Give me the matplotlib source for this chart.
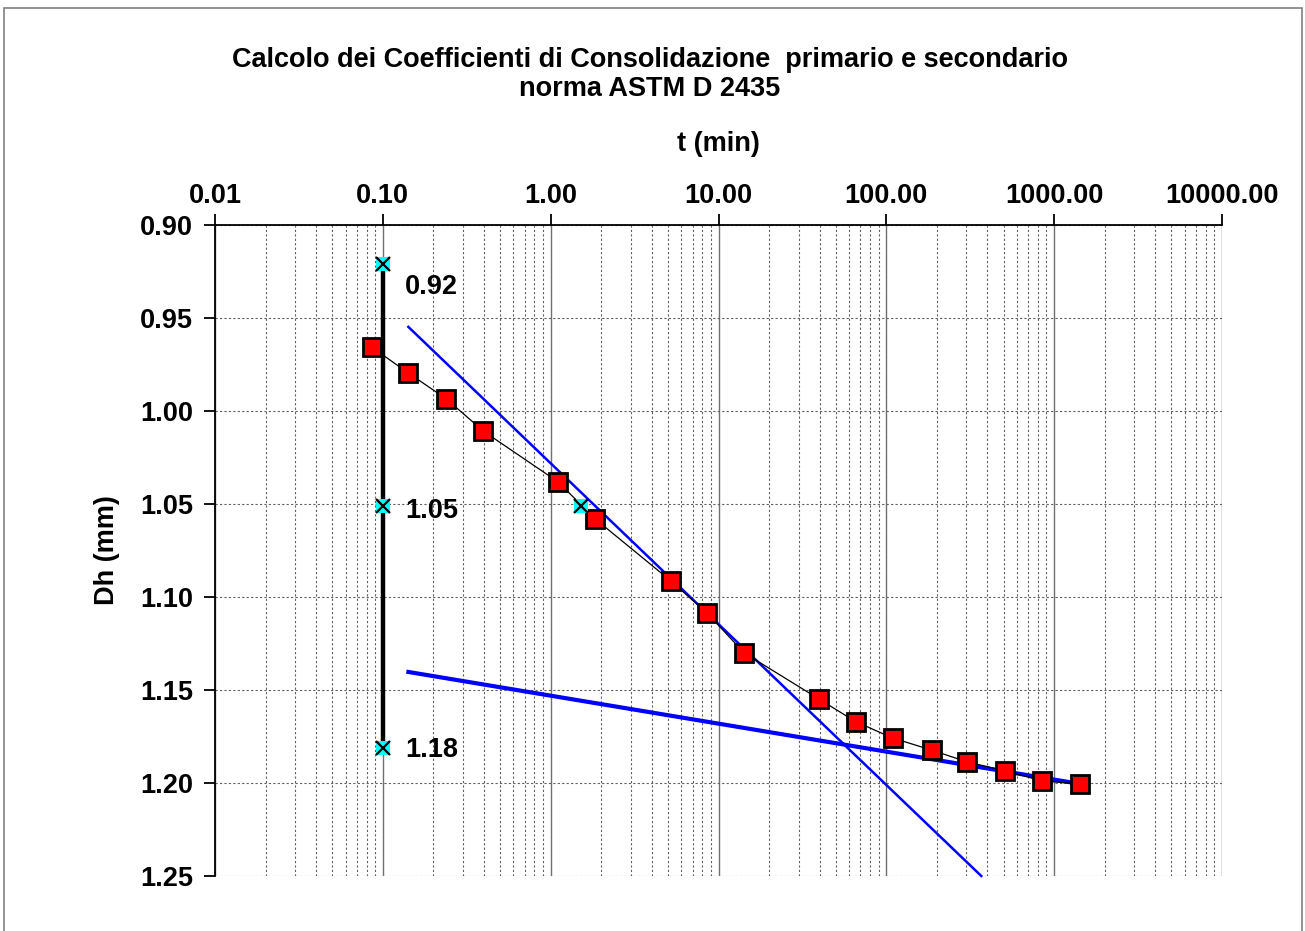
import matplotlib
matplotlib.use("Agg")
import matplotlib.pyplot as plt
from matplotlib.ticker import FixedLocator, LogLocator, NullFormatter, FuncFormatter
from matplotlib.patches import Rectangle
import numpy as np

plt.rcParams['font.family'] = ['Liberation Sans', 'DejaVu Sans']

# measured data
t_min = [0.0857, 0.142, 0.239, 0.397, 1.11, 1.84, 5.21, 8.54, 14.2, 39.6,
         65.6, 109, 186, 304, 512, 849, 1429]
dh_mm = [0.9656, 0.9796, 0.9935, 1.0108, 1.0382, 1.058, 1.0914, 1.1086, 1.130, 1.1548,
         1.167, 1.1758, 1.1823, 1.1887, 1.1935, 1.1989, 1.2005]

# reference construction points at t = 0.1
ref_t = [0.1, 0.1, 0.1]
ref_dh = [0.921, 1.051, 1.181]
ref_labels = ["0.92", "1.05", "1.18"]

# t50 point
t50_t = [1.52]
t50_dh = [1.051]

# tangent lines (primary and secondary)
primary_t = [0.142, 368]
primary_dh = [0.9548, 1.25]
secondary_t = [0.142, 1429]
secondary_dh = [1.1403, 1.2005]

xticks = [0.01, 0.1, 1, 10, 100, 1000, 10000]
yticks = [0.90, 0.95, 1.00, 1.05, 1.10, 1.15, 1.20, 1.25]

FS = 19.5

W, H = 1305, 931
fig = plt.figure(figsize=(W/100, H/100), dpi=100)
ax = fig.add_axes([215/W, 1-876/H, (1222-215)/W, (876-225)/H])

ax.set_xscale('log')
ax.set_xlim(0.01, 10000)
ax.set_ylim(1.25, 0.90)

# grid
ax.xaxis.set_major_locator(FixedLocator(xticks))
ax.xaxis.set_minor_locator(LogLocator(base=10, subs=np.arange(2, 10), numticks=20))
ax.xaxis.set_minor_formatter(NullFormatter())
ax.xaxis.set_major_formatter(FuncFormatter(lambda v, p: f"{v:.2f}"))
ax.set_yticks(yticks)
ax.yaxis.set_major_formatter(FuncFormatter(lambda v, p: f"{v:.2f}"))
ax.grid(which='major', axis='x', color='#707070', linestyle='-', linewidth=1.0)
ax.grid(which='minor', axis='x', color='#606060', linestyle=(0, (2, 2)), linewidth=0.8)
ax.grid(which='major', axis='y', color='#606060', linestyle=(0, (2, 2)), linewidth=0.8)
ax.set_axisbelow(True)

for s in ['right', 'bottom']:
    ax.spines[s].set_visible(False)
ax.spines['top'].set_linewidth(1.3)
ax.spines['left'].set_linewidth(1.3)

ax.xaxis.tick_top()
ax.xaxis.set_label_position('top')
ax.tick_params(axis='x', which='major', direction='out', length=8, width=1.3,
               labelsize=FS, pad=3.5, top=True, bottom=False)
ax.tick_params(axis='x', which='minor', length=0, top=False, bottom=False)
ax.tick_params(axis='y', which='major', direction='out', length=8, width=1.3,
               labelsize=FS, pad=8)
for lab in ax.get_xticklabels() + ax.get_yticklabels():
    lab.set_fontweight('bold')

ax.set_xlabel("t (min)", fontsize=FS, fontweight='bold', labelpad=23)
ax.set_ylabel("Dh (mm)", fontsize=FS, fontweight='bold', labelpad=14)

# vertical reference line
ax.plot([ref_t[0], ref_t[-1]], [ref_dh[0], ref_dh[-1]], color='black', linewidth=3.2, zorder=3)

# tangent lines
ax.plot(primary_t, primary_dh, color='#0000FF', linewidth=1.8, zorder=4, clip_on=False)
ax.plot(secondary_t, secondary_dh, color='#0000FF', linewidth=3.0, zorder=4)

# data
ax.plot(t_min, dh_mm, color='black', linewidth=0.9, marker='s', markersize=13,
        markerfacecolor='#FF0000', markeredgecolor='black', markeredgewidth=2.0, zorder=5)

# reference markers
for tx, dy in zip(ref_t + t50_t, ref_dh + t50_dh):
    ax.plot([tx], [dy], marker='s', markersize=10.5, markerfacecolor='#00FFFF',
            markeredgewidth=0, linestyle='none', zorder=6)
    ax.plot([tx], [dy], marker='x', markersize=10, color='black',
            markeredgewidth=1.6, linestyle='none', zorder=7)

label_dy_px = [-23, -5, -2]
for tx, dy, lab, off in zip(ref_t, ref_dh, ref_labels, label_dy_px):
    ax.annotate(lab, (tx, dy), xytext=(16, off * 0.72), textcoords='offset points',
                fontsize=FS, fontweight='bold', va='center', ha='left', zorder=8)

fig.text(650/W, 1-60/H, "Calcolo dei Coefficienti di Consolidazione  primario e secondario",
         ha='center', va='center', fontsize=FS, fontweight='bold')
fig.text(650/W, 1-89/H, "norma ASTM D 2435", ha='center', va='center',
         fontsize=FS, fontweight='bold')

# figure border
fig.patches.append(Rectangle((4/W, -0.05), (1302-4)/W, 1.05 - 8/H, transform=fig.transFigure,
                             fill=False, edgecolor='#808080', linewidth=1.2))

fig.savefig("out.png", dpi=100)
